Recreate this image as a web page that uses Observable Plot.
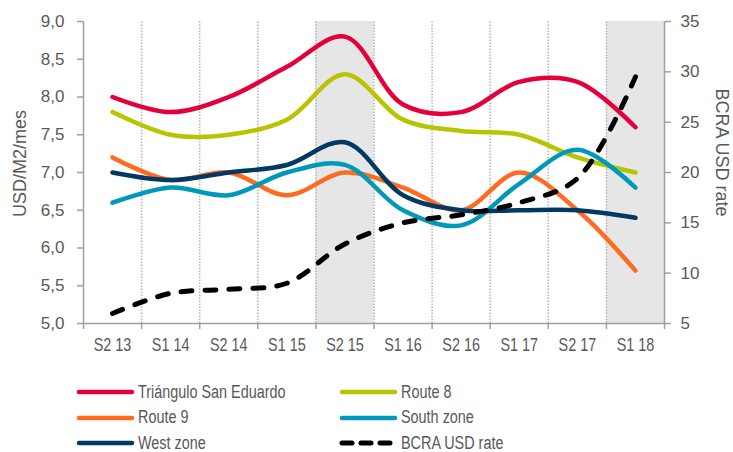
<!DOCTYPE html>
<html><head><meta charset="utf-8">
<script src="https://cdn.jsdelivr.net/npm/d3@7"></script>
<script src="https://cdn.jsdelivr.net/npm/@observablehq/plot@0.6"></script>
<style>
body{margin:0;background:#fff;font-family:"Liberation Sans",Arial,sans-serif;color:#595959;}
#wrap{position:relative;width:733px;height:452px;overflow:hidden;}
#chart{position:absolute;left:0;top:0;}
.leg{position:absolute;display:flex;align-items:center;font-size:18px;white-space:nowrap;height:24px;}
.leg svg{margin-right:3px;flex:none;}
.leg span{display:inline-block;transform:scaleX(0.8);transform-origin:left center;}
</style></head><body><div id="wrap"><div id="chart"></div></div>
<script>
const categories = ["S2 13","S1 14","S2 14","S1 15","S2 15","S1 16","S2 16","S1 17","S2 17","S1 18"];
const triangulo = [8.0, 7.8, 8.0, 8.4, 8.8, 7.9, 7.8, 8.2, 8.2, 7.6];
const route8    = [7.8, 7.5, 7.5, 7.7, 8.3, 7.7, 7.55, 7.5, 7.2, 7.0];
const route9    = [7.2, 6.9, 7.0, 6.7, 7.0, 6.8, 6.5, 7.0, 6.5, 5.7];
const southZone = [6.6, 6.8, 6.7, 7.0, 7.1, 6.5, 6.3, 6.85, 7.3, 6.8];
const westZone  = [7.0, 6.9, 7.0, 7.1, 7.4, 6.7, 6.5, 6.5, 6.5, 6.4];
const bcraRate  = [6.0, 8.0, 8.4, 9.0, 12.9, 15.0, 15.8, 17.0, 19.4, 29.5];
const seriesNames  = ["Triángulo San Eduardo","Route 8","Route 9","South zone","West zone","BCRA USD rate"];
const seriesColors = ["#E4003B","#B9C400","#FF6B1E","#0099B9","#003A63","#000000"];
const shadedCategories = ["S2 15","S1 18"];
const leftTicks  = [5.0, 5.5, 6.0, 6.5, 7.0, 7.5, 8.0, 8.5, 9.0];
const rightTicks = [5, 10, 15, 20, 25, 30, 35];
const leftTitle = "USD/M2/mes";
const rightTitle = "BCRA USD rate";

const leftMin = 5, leftMax = 9, rightMin = 5, rightMax = 35;
const toLeft = v => leftMin + (v - rightMin) * (leftMax - leftMin) / (rightMax - rightMin);
const toRight = v => rightMin + (v - leftMin) * (rightMax - rightMin) / (leftMax - leftMin);

const n = categories.length;
const leftSeries = [triangulo, route8, route9, southZone, westZone];
const seriesData = leftSeries.map((vals, k) => vals.map((v, i) => ({i, v, k})));
seriesData.push(bcraRate.map((v, i) => ({i, v: toLeft(v), k: 5})));

const shadedIdx = shadedCategories.map(c => categories.indexOf(c));
const boundaries = d3.range(-0.5, n, 1);
const inner = d3.range(0.5, n - 1, 1);
const FONT = '"Liberation Sans",Arial,sans-serif';
const axisGrey = "#a0a0a0";
const textGrey = "#595959";

const lineMarks = seriesData.map((d, k) => Plot.line(d, {
  x: "i", y: "v", stroke: seriesColors[k], strokeWidth: k === 5 ? 5 : 4.5,
  curve: "catmull-rom", strokeLinecap: "round", strokeLinejoin: "round",
  strokeDasharray: k === 5 ? "11,13" : null
}));

const chart = Plot.plot({
  width: 733, height: 365,
  marginLeft: 83, marginRight: 69, marginTop: 21, marginBottom: 42,
  style: {fontFamily: FONT, fontSize: "17px", color: textGrey, background: "white", overflow: "visible"},
  x: {type: "linear", domain: [-0.5, n - 0.5]},
  y: {domain: [leftMin, leftMax]},
  marks: [
    Plot.rect(shadedIdx, {x1: i => i - 0.5, x2: i => i + 0.5, y1: leftMin, y2: leftMax, fill: "#e6e6e6"}),
    Plot.ruleX(inner, {y1: leftMin, y2: leftMax, stroke: "#b5b5b5", strokeWidth: 1.5, strokeDasharray: "1.5,1.5"}),
    Plot.ruleY([leftMin], {x1: -0.5, x2: n - 0.5, stroke: axisGrey, strokeWidth: 1.5}),
    Plot.ruleX([-0.5, n - 0.5], {y1: leftMin, y2: leftMax, stroke: axisGrey, strokeWidth: 1.5}),
    Plot.axisX(boundaries, {tickSize: 6, tickFormat: () => "", stroke: axisGrey, strokeWidth: 1.5, label: null}),
    Plot.axisX(d3.range(n), {tickSize: 0, tickPadding: 15, tickFormat: i => categories[i], fill: textGrey, fontSize: 18, label: null}),
    Plot.axisY(leftTicks, {anchor: "left", tickSize: 6, tickPadding: 13, stroke: axisGrey, strokeWidth: 1.5, fill: textGrey,
      tickFormat: v => d3.format(".1f")(v).replace(".", ","), label: null}),
    Plot.axisY(rightTicks.map(toLeft), {anchor: "right", tickSize: 6, tickPadding: 10, stroke: axisGrey, strokeWidth: 1.5, fill: textGrey,
      tickFormat: v => String(Math.round(toRight(v))), label: null}),
    ...lineMarks,
    Plot.text([leftTitle], {frameAnchor: "left", rotate: -90, textAnchor: "middle", lineAnchor: "middle", dx: -63, dy: -9, fill: textGrey, fontSize: 18}),
    Plot.text([rightTitle], {frameAnchor: "right", rotate: 90, textAnchor: "middle", lineAnchor: "middle", dx: 57, dy: -20, fill: textGrey, fontSize: 18})
  ]
});
document.getElementById("chart").appendChild(chart);

// condense the category labels horizontally, as in the reference
chart.querySelectorAll('g[aria-label="x-axis tick label"] text').forEach(el => {
  if (!el.textContent) return;
  let t = el.getAttribute("transform") || "";
  const xa = el.getAttribute("x");
  if (xa !== null && isFinite(+xa) && +xa !== 0) {
    el.removeAttribute("x");
    t = `${t} translate(${+xa},0)`;
  }
  el.setAttribute("transform", `${t} scale(0.8,1)`);
});

// legend
const wrap = document.getElementById("wrap");
seriesNames.forEach((name, k) => {
  const col = k % 2, row = Math.floor(k / 2);
  const div = document.createElement("div");
  div.className = "leg";
  div.style.left = (col ? 339 : 76) + "px";
  div.style.top = (392 + row * 25.5 - 12) + "px";
  const dash = k === 5 ? 'stroke-dasharray="10,9"' : '';
  div.innerHTML = `<svg width="59" height="10"><line x1="3" y1="5" x2="56" y2="5" stroke="${seriesColors[k]}" stroke-width="${k === 5 ? 5 : 4.5}" stroke-linecap="round" ${dash}/></svg><span>${name}</span>`;
  wrap.appendChild(div);
});
</script></body></html>
